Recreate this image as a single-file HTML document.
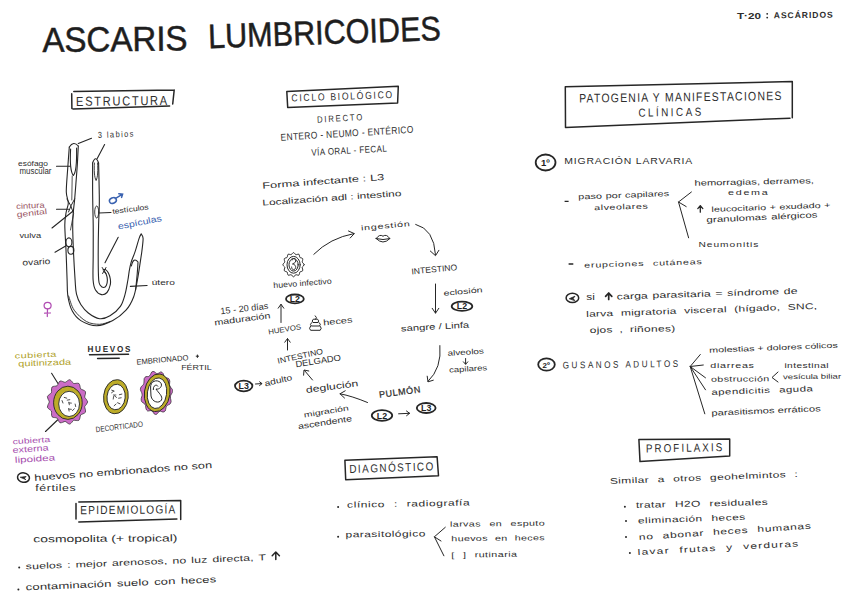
<!DOCTYPE html>
<html><head><meta charset="utf-8"><title>Ascaris lumbricoides</title>
<style>
html,body{margin:0;padding:0;background:#fff;}
body{width:848px;height:599px;overflow:hidden;position:relative;font-family:"Liberation Sans", sans-serif;}
.t{position:absolute;left:0;top:0;line-height:1;white-space:nowrap;transform-origin:0 0;}
svg{position:absolute;left:0;top:0;}

</style></head><body>
<svg width="848" height="599" viewBox="0 0 848 599"><g fill="none" stroke="#262626" stroke-width="1.5" stroke-linecap="round" stroke-linejoin="round"><path d="M73.8 91.5 L174.2 90 M71.7 93.8 L71.9 108.4 M73 109.1 L169.6 106 M174.2 90 L172.7 104"/><path d="M286.8 91.5 L398.3 86.2 L397.6 103 L287.7 107.4 Z"/><path d="M565.3 86.8 L792.3 81.5 L792.3 117.7 M565.3 86.8 L565.5 127.5 L790 118.2"/><path d="M344.9 460.3 L437.1 456.8 L438.5 475.8 L345.7 479.8 Z"/><path d="M638.9 439.5 L729.7 439 L729.7 456 L640 461.6 Z"/><path d="M78.8 502 L180.7 500.4 L180.7 519.4 M76 503.5 L76 519.1 M78.8 521.9 L176.9 519.1"/><path d="M89.5 354.8 L128.5 354.2 M97.6 358.5 L119.2 358.3"/></g><g fill="none" stroke="#262626" stroke-width="1.1" stroke-linecap="round" stroke-linejoin="round"><path d="M69.3 147.0 C69.0 150.8 68.1 162.5 67.6 170.0 C67.1 177.5 66.2 186.5 66.3 192.0 C66.4 197.5 68.3 199.7 68.3 203.0 C68.3 206.3 66.8 208.3 66.2 212.0 C65.6 215.7 64.8 218.7 64.8 225.0 C64.8 231.3 65.6 240.8 66.0 250.0 C66.4 259.2 66.8 272.2 67.1 280.0 C67.4 287.8 67.1 291.8 68.0 297.0 C68.9 302.2 70.2 307.2 72.3 311.1 C74.4 315.0 76.7 318.2 80.8 320.6 C84.9 323.1 91.5 325.8 96.8 325.8 C102.1 325.8 107.9 323.2 112.8 320.6 C117.7 318.0 122.5 314.1 126.0 310.2 C129.5 306.3 131.7 302.0 133.6 297.0 C135.5 292.0 136.4 285.3 137.4 280.0 C138.4 274.7 139.1 269.8 139.8 265.1 C140.5 260.4 141.2 256.1 141.8 251.7 C142.4 247.2 143.2 241.3 143.1 238.4 C143.0 235.5 141.5 234.7 141.2 234.0"/><path d="M69.3 147 Q73.5 140.5 78.3 146"/><path d="M78.3 146.0 C78.1 149.2 77.7 158.5 77.3 165.0 C76.9 171.5 76.2 179.2 75.8 185.0 C75.3 190.8 75.0 195.5 74.6 200.0 C74.2 204.5 73.6 207.8 73.3 212.0 C73.0 216.2 72.7 218.7 72.7 225.0 C72.7 231.3 73.0 240.8 73.4 250.0 C73.8 259.2 74.6 272.6 75.1 280.0 C75.6 287.4 75.5 290.1 76.5 294.2 C77.5 298.3 78.8 301.4 80.8 304.5 C82.8 307.6 85.2 310.6 88.3 313.0 C91.4 315.4 96.0 318.2 99.6 318.7 C103.2 319.2 106.5 317.9 110.0 315.8 C113.5 313.8 117.9 310.0 120.4 306.4 C122.9 302.8 123.8 298.6 125.1 294.2 C126.3 289.8 127.2 283.7 127.9 280.0 C128.6 276.3 128.6 274.7 129.1 271.8 C129.6 268.9 130.1 265.8 131.1 262.4 C132.1 259.0 133.8 255.7 135.1 251.7 C136.4 247.7 138.1 241.3 139.1 238.4 C140.1 235.5 140.8 234.7 141.2 234.0"/><path d="M68.6 296.0 C69.5 298.4 71.2 305.9 74.2 310.2 C77.2 314.4 82.2 319.1 86.4 321.5 C90.6 323.9 95.7 324.3 99.6 324.3 C103.5 324.3 108.3 322.0 110.0 321.5" stroke-width="0.9"/><path d="M70.6 149 C70 160 69.8 171 73.3 175.5 C76.8 172 76.8 160 76.6 148"/><path d="M72.2 176 L71.8 200 M73.5 214 L70.5 230" stroke-width="0.8"/><path d="M74.6 199 Q71 205 68.5 212 M67 199 Q71 205 73.5 213" stroke-width="1"/><ellipse cx="68.9" cy="242.3" rx="3" ry="4.4"/><ellipse cx="70.9" cy="250.3" rx="3" ry="3.9"/><path d="M131.4 266 Q133.5 256.5 138 262 M138 262 Q137.6 272 135.6 290" /><path d="M92.6 163.0 C92.6 166.7 92.6 178.0 92.6 185.0 C92.6 192.0 92.7 198.3 92.8 205.0 C92.9 211.7 93.1 216.7 93.2 225.0 C93.3 233.3 93.2 245.8 93.2 255.0 C93.2 264.2 92.7 274.2 93.1 280.0 C93.5 285.8 94.1 287.6 95.5 290.0 C96.9 292.4 99.6 294.2 101.5 294.6 C103.4 295.0 105.5 294.1 107.0 292.5 C108.5 290.9 109.7 287.2 110.2 285.0 C110.8 282.8 110.6 281.0 110.3 279.0 C110.0 277.0 109.2 274.7 108.4 273.1 C107.6 271.5 106.4 270.2 105.5 269.6 C104.6 269.1 103.4 269.8 103.0 269.8"/><path d="M92.6 163 Q95.6 154.5 98.6 163"/><path d="M98.6 163.0 C98.7 167.5 99.1 183.0 99.2 190.0 C99.3 197.0 99.4 199.2 99.3 205.0 C99.2 210.8 98.8 216.7 98.6 225.0 C98.4 233.3 98.2 245.8 98.2 255.0 C98.2 264.2 98.3 274.9 98.7 280.0 C99.1 285.1 99.7 284.2 100.5 285.5 C101.3 286.8 102.6 287.5 103.6 287.5 C104.6 287.5 105.7 286.8 106.3 285.5 C106.9 284.2 107.4 281.8 107.4 280.0 C107.4 278.2 106.9 275.9 106.3 274.5 C105.7 273.1 104.4 272.0 104.0 271.5"/><path d="M94.4 163 C94 170 94.2 177 96.1 180.5 C97.9 177 98 170 97.6 163" stroke-width="0.9"/><ellipse cx="96.7" cy="212" rx="2" ry="6" stroke-width="0.9"/><path d="M102.2 267.5 L106 273.5 M106 267.5 L102.6 273.5" stroke-width="1"/><path d="M78.3 143.5 L91.5 138.2 M97.1 158.8 L104.6 144.5 M56.5 166.3 L70 166.3 M56.5 209.2 L68.5 209.2 M52 228 L72.5 211.5 M55 252.2 L66.5 245.5 M98.8 213 L111 212.5 M118.2 237.3 L105 262.7 M130.4 286.4 L147.1 285.5 M51.6 373.3 L58 383.5 M45.5 431.5 L57.5 420"/></g><g fill="none" stroke="#3a62b0" stroke-width="1.5" stroke-linecap="round"><ellipse cx="112.9" cy="200.5" rx="3.6" ry="2.7" transform="rotate(-25 112.9 200.5)"/><path d="M115.2 198.6 L122.6 194.2 M118.8 193.8 L122.6 194.2 L121.6 197.4"/></g><g fill="none" stroke="#b14db3" stroke-width="1.25" stroke-linecap="round"><ellipse cx="47.6" cy="305.6" rx="3.5" ry="3.3"/><path d="M47.5 309 L47.3 316.5 M44.6 313.2 L50.4 313"/></g><path d="M87.7 401.9 C87.5 402.3 86.9 403.6 86.4 404.4 C85.9 405.2 84.9 405.8 84.7 406.6 C84.5 407.4 85.1 408.4 85.3 409.3 C85.4 410.3 85.8 411.5 85.4 412.3 C85.0 413.0 83.9 413.4 83.1 413.8 C82.3 414.3 81.2 414.3 80.7 414.9 C80.2 415.6 80.3 416.7 80.0 417.6 C79.7 418.5 79.6 419.8 78.9 420.3 C78.3 420.8 77.1 420.5 76.2 420.5 C75.3 420.5 74.4 420.0 73.7 420.3 C72.9 420.6 72.5 421.6 71.9 422.3 C71.2 422.9 70.5 424.0 69.8 424.1 C69.0 424.2 68.1 423.4 67.3 422.9 C66.5 422.4 65.9 421.5 65.1 421.4 C64.4 421.3 63.6 422.1 62.7 422.3 C61.9 422.5 60.8 423.1 60.0 422.8 C59.3 422.5 58.9 421.3 58.4 420.5 C57.9 419.7 57.7 418.5 57.1 418.1 C56.5 417.6 55.4 417.8 54.6 417.6 C53.7 417.4 52.5 417.4 52.0 416.7 C51.5 416.1 51.6 414.8 51.5 413.8 C51.4 412.9 51.8 411.8 51.4 411.0 C51.0 410.3 50.0 410.0 49.3 409.3 C48.7 408.7 47.6 408.1 47.4 407.3 C47.3 406.4 47.9 405.3 48.2 404.4 C48.6 403.5 49.3 402.7 49.3 401.9 C49.3 401.1 48.6 400.3 48.2 399.4 C47.9 398.5 47.3 397.4 47.4 396.5 C47.6 395.7 48.7 395.1 49.3 394.5 C50.0 393.8 51.0 393.5 51.4 392.8 C51.8 392.0 51.4 390.9 51.5 390.0 C51.6 389.0 51.5 387.7 52.0 387.1 C52.5 386.4 53.7 386.4 54.6 386.2 C55.4 386.0 56.5 386.2 57.1 385.7 C57.7 385.3 57.9 384.1 58.4 383.3 C58.9 382.5 59.3 381.3 60.0 381.0 C60.8 380.7 61.9 381.3 62.7 381.5 C63.6 381.7 64.4 382.5 65.1 382.4 C65.9 382.3 66.5 381.4 67.3 380.9 C68.1 380.4 69.0 379.6 69.8 379.7 C70.5 379.8 71.2 380.9 71.9 381.5 C72.5 382.2 72.9 383.2 73.7 383.5 C74.4 383.8 75.3 383.3 76.2 383.3 C77.1 383.3 78.3 383.0 78.9 383.5 C79.6 384.0 79.7 385.3 80.0 386.2 C80.3 387.1 80.2 388.2 80.7 388.9 C81.2 389.5 82.3 389.5 83.1 390.0 C83.9 390.4 85.0 390.8 85.4 391.5 C85.8 392.3 85.4 393.5 85.3 394.5 C85.1 395.4 84.5 396.4 84.7 397.2 C84.9 398.0 85.9 398.6 86.4 399.4 C86.9 400.2 87.5 401.5 87.7 401.9" fill="#cb6cc6" stroke="#262626" stroke-width="0.7"/><ellipse cx="67.9" cy="402.8" rx="14.3" ry="16.6" fill="#bdac28" stroke="#262626" stroke-width="0.9"/><ellipse cx="69.1" cy="403.9" rx="10.4" ry="12.6" fill="#fff" stroke="#262626" stroke-width="0.9"/><g stroke="#333" stroke-width="0.8" stroke-linecap="round"><path d="M72.1 409.7 L74.7 409.7" transform="rotate(137 73.4 409.7)"/><path d="M67.6 409.8 L70.2 409.8" transform="rotate(81 68.9 409.8)"/><path d="M64.2 397.8 L66.8 397.8" transform="rotate(17 65.5 397.8)"/><path d="M74.1 405.3 L76.7 405.3" transform="rotate(78 75.4 405.3)"/><path d="M67.8 403.5 L70.4 403.5" transform="rotate(80 69.1 403.5)"/><path d="M67.2 399.9 L69.8 399.9" transform="rotate(170 68.5 399.9)"/><path d="M68.8 403.0 L71.4 403.0" transform="rotate(5 70.1 403.0)"/><path d="M61.2 401.8 L63.8 401.8" transform="rotate(69 62.5 401.8)"/><path d="M68.8 409.2 L71.4 409.2" transform="rotate(5 70.1 409.2)"/></g><ellipse cx="115.9" cy="396.7" rx="12.3" ry="17.1" fill="#bdac28" stroke="#262626" stroke-width="0.9" transform="rotate(6 115.9 396.7)"/><ellipse cx="116.1" cy="397" rx="9.1" ry="12.8" fill="#fff" stroke="#262626" stroke-width="0.9" transform="rotate(6 116.1 397)"/><g stroke="#333" stroke-width="0.8" stroke-linecap="round"><path d="M111.3 392.0 L113.9 392.0" transform="rotate(143 112.6 392.0)"/><path d="M119.3 394.4 L121.9 394.4" transform="rotate(166 120.6 394.4)"/><path d="M118.6 398.0 L121.2 398.0" transform="rotate(170 119.9 398.0)"/><path d="M111.6 390.6 L114.2 390.6" transform="rotate(20 112.9 390.6)"/><path d="M112.1 397.8 L114.7 397.8" transform="rotate(98 113.4 397.8)"/><path d="M114.2 396.6 L116.8 396.6" transform="rotate(39 115.5 396.6)"/><path d="M113.8 404.9 L116.4 404.9" transform="rotate(138 115.1 404.9)"/><path d="M117.5 403.3 L120.1 403.3" transform="rotate(25 118.8 403.3)"/><path d="M113.3 395.0 L115.9 395.0" transform="rotate(0 114.6 395.0)"/></g><path d="M172.3 392.7 C172.0 393.2 170.9 394.5 170.7 395.4 C170.4 396.4 170.4 397.2 170.5 398.3 C170.6 399.3 171.3 400.7 171.1 401.7 C171.0 402.7 170.4 403.6 169.8 404.2 C169.1 404.8 167.9 404.8 167.3 405.3 C166.7 405.9 166.4 406.7 166.0 407.6 C165.7 408.5 165.7 410.2 165.2 411.0 C164.7 411.7 163.8 412.0 163.0 412.1 C162.2 412.1 161.2 411.2 160.5 411.2 C159.7 411.2 159.2 411.7 158.5 412.2 C157.8 412.8 157.1 414.2 156.4 414.4 C155.7 414.7 154.8 414.3 154.1 413.8 C153.5 413.2 153.0 411.7 152.3 411.2 C151.7 410.7 151.1 410.7 150.3 410.6 C149.5 410.6 148.4 411.3 147.6 411.0 C146.9 410.7 146.4 409.7 146.0 408.8 C145.6 407.8 145.8 406.2 145.5 405.3 C145.2 404.4 144.7 404.0 144.0 403.4 C143.4 402.8 142.1 402.5 141.7 401.7 C141.2 400.9 141.1 399.7 141.2 398.7 C141.2 397.6 142.1 396.4 142.1 395.4 C142.2 394.4 142.0 393.7 141.7 392.7 C141.4 391.7 140.4 390.6 140.4 389.6 C140.3 388.6 140.7 387.5 141.2 386.7 C141.7 385.9 142.8 385.5 143.3 384.7 C143.8 383.9 143.9 383.1 144.0 382.0 C144.2 381.0 143.8 379.4 144.2 378.5 C144.5 377.6 145.3 377.0 146.0 376.6 C146.7 376.3 147.9 376.8 148.6 376.5 C149.3 376.2 149.7 375.5 150.3 374.8 C150.8 374.0 151.2 372.4 151.8 371.9 C152.5 371.4 153.4 371.4 154.1 371.6 C154.9 371.9 155.7 373.2 156.4 373.4 C157.1 373.7 157.7 373.4 158.5 373.2 C159.3 372.9 160.2 371.8 161.0 371.9 C161.7 371.9 162.5 372.6 163.0 373.3 C163.5 374.1 163.7 375.7 164.2 376.5 C164.7 377.2 165.3 377.5 166.0 377.8 C166.8 378.1 168.0 377.9 168.6 378.5 C169.3 379.1 169.6 380.2 169.8 381.2 C169.9 382.2 169.4 383.7 169.5 384.7 C169.6 385.7 170.0 386.3 170.5 387.1 C171.0 388.0 172.1 388.7 172.4 389.6 C172.7 390.5 172.3 392.2 172.3 392.7" fill="#cb6cc6" stroke="#262626" stroke-width="0.7"/><ellipse cx="157.2" cy="392.8" rx="12.8" ry="19" fill="#bdac28" stroke="#262626" stroke-width="0.9" transform="rotate(8 157.2 392.8)"/><ellipse cx="157" cy="393.2" rx="9.6" ry="15.4" fill="#fff" stroke="#262626" stroke-width="0.9" transform="rotate(8 157 393.2)"/><path d="M150.6 388 C150 381 157 379 160.5 382.5 C163.5 386 159 390 156 389 C158.5 393 163 396 161.5 400 C159 404 152 402 151 396 Z M153.3 390 C153 385 156.8 384 158 386.5" fill="none" stroke="#262626" stroke-width="1"/><g fill="none" stroke="#262626" stroke-width="1" stroke-linecap="round" stroke-linejoin="round"><path d="M304.1 264.7 C303.9 264.9 303.5 265.7 303.2 266.2 C302.9 266.6 302.3 266.9 302.2 267.4 C302.1 267.8 302.5 268.4 302.6 269.0 C302.6 269.5 302.9 270.3 302.7 270.7 C302.5 271.2 301.7 271.3 301.3 271.5 C300.8 271.7 300.2 271.6 299.9 272.0 C299.6 272.3 299.6 273.1 299.5 273.6 C299.3 274.1 299.2 274.9 298.8 275.2 C298.4 275.4 297.7 275.1 297.3 275.0 C296.8 275.0 296.2 274.5 295.8 274.7 C295.4 274.8 295.2 275.4 294.8 275.8 C294.4 276.2 293.9 276.8 293.5 276.8 C293.1 276.8 292.6 276.2 292.2 275.8 C291.8 275.4 291.6 274.8 291.2 274.7 C290.8 274.5 290.2 275.0 289.7 275.0 C289.3 275.1 288.6 275.4 288.2 275.2 C287.8 274.9 287.7 274.1 287.5 273.6 C287.4 273.1 287.4 272.3 287.1 272.0 C286.8 271.6 286.2 271.7 285.7 271.5 C285.3 271.3 284.5 271.2 284.3 270.7 C284.1 270.3 284.4 269.5 284.4 269.0 C284.5 268.4 284.9 267.8 284.8 267.4 C284.7 266.9 284.1 266.6 283.8 266.2 C283.5 265.7 282.9 265.2 282.9 264.7 C282.9 264.2 283.5 263.7 283.8 263.2 C284.1 262.8 284.7 262.5 284.8 262.0 C284.9 261.6 284.5 261.0 284.4 260.4 C284.4 259.9 284.1 259.1 284.3 258.7 C284.5 258.2 285.3 258.1 285.7 257.9 C286.2 257.7 286.8 257.8 287.1 257.4 C287.4 257.1 287.4 256.3 287.5 255.8 C287.7 255.3 287.8 254.5 288.2 254.2 C288.6 254.0 289.3 254.3 289.7 254.4 C290.2 254.4 290.8 254.9 291.2 254.7 C291.6 254.6 291.8 254.0 292.2 253.6 C292.6 253.2 293.1 252.6 293.5 252.6 C293.9 252.6 294.4 253.2 294.8 253.6 C295.2 254.0 295.4 254.6 295.8 254.7 C296.2 254.9 296.8 254.4 297.3 254.4 C297.7 254.3 298.4 254.0 298.8 254.2 C299.2 254.5 299.3 255.3 299.5 255.8 C299.6 256.3 299.6 257.1 299.9 257.4 C300.2 257.8 300.8 257.7 301.3 257.9 C301.7 258.1 302.5 258.2 302.7 258.7 C302.9 259.1 302.6 259.9 302.6 260.4 C302.5 261.0 302.1 261.6 302.2 262.0 C302.3 262.5 302.9 262.8 303.2 263.2 C303.5 263.7 303.9 264.5 304.1 264.7"/><ellipse cx="293.6" cy="264.8" rx="6.6" ry="8.4"/><ellipse cx="293.6" cy="264.8" rx="4.6" ry="6.3"/><path d="M292 260 C292 258 296 258 295.8 261 C295.6 263 293 263.5 292.5 264 C295.5 264.5 296.5 267 295 269 C293.5 270.5 291.5 269.5 291.6 267"/><path d="M376.2 238.6 Q379.5 233.6 383 236.2 Q386.5 233.6 389.8 238.6 Q383 245.5 376.2 238.6 Z M376.2 238.6 Q383 240.6 389.8 238.6"/><path d="M315.3 315.8 Q317.5 317.5 315.8 319.3 M313 319.5 Q311.2 321.2 313 322.5 L318 322.5 Q319.6 321 317.8 319.4 Z M311.6 322.6 Q309.3 324.8 311.3 326 L319.5 326 Q321.5 324.5 319.2 322.6 M310.5 326.2 Q308.4 328.6 310.6 330.3 L320.2 330.3 Q322.4 328.3 320.2 326.2"/><ellipse cx="294.9" cy="298.9" rx="8.9" ry="4.4" stroke-width="1.8"/><ellipse cx="462" cy="306.2" rx="10.3" ry="4.6" stroke-width="1.8"/><ellipse cx="382" cy="415.5" rx="10.2" ry="5.3" stroke-width="1.8"/><ellipse cx="426.2" cy="408" rx="9.4" ry="5" stroke-width="1.8"/><ellipse cx="243.7" cy="386" rx="8.7" ry="5.3" stroke-width="1.8"/><ellipse cx="545.6" cy="162.5" rx="9.9" ry="8" stroke-width="1.8"/><ellipse cx="546.5" cy="364.5" rx="8.3" ry="6.2" stroke-width="1.8"/><ellipse cx="572.4" cy="297.9" rx="6.3" ry="4.7" stroke-width="1.5"/><ellipse cx="23.5" cy="477.6" rx="6" ry="4.7" stroke-width="1.5" transform="rotate(8 23.5 477.6)"/><path d="M569.6 298.6 L575 296.2 L573.2 298.4 L574.6 300.4 Z M20.6 477.2 L26.2 476.6 L24 478 L25.6 479.4 Z" fill="#262626" stroke-width="0.8"/><path d="M608.7 299.4 L608.7 293.6 M605.6 296.4 L608.7 293 L611.8 296.4" stroke-width="1.7"/><path d="M700.3 212.2 L700.3 206 M697.8 208.6 L700.3 205.6 L702.8 208.6" stroke-width="1.3"/><path d="M275.8 559.6 L275.8 552.4 M272.2 555.8 L275.8 552 L279.4 555.8" stroke-width="1.5"/><path d="M313.8 254.3 Q330 238 354 233.6 M348.5 231 L354.3 233.6 L350.2 238"/><path d="M415.7 224.4 Q434 229 435.5 254.7 M430.3 251 L435.5 255.7 L438.9 250.3"/><path d="M435.5 284 L435.5 313 M432.2 308.3 L435.5 313.2 L438.8 308.3"/><path d="M439.9 345.6 Q442 368 428 381.4 M427.2 376.2 L428 381.8 L433.3 380.2"/><path d="M367.5 402.5 Q352 396 340 393.8 M345.2 390.8 L340 393.8 L344.5 398"/><path d="M312.5 380 L304.5 370.5 M303.6 375.2 L304 370 L308.8 371"/><path d="M287.5 350 L287.5 338.8 M284.8 342.2 L287.5 338.5 L290.2 342.2"/><path d="M281 322.5 L281 304.5 M278.2 308.2 L281 304.2 L283.8 308.2"/><path d="M398.6 413.8 L409.6 413.3 M406.5 411 L409.6 413.3 L406.6 415.7"/><path d="M255.5 384 L261.8 383.6 M259.6 381.8 L262 383.6 L259.6 385.5"/><path d="M465.6 358.5 L465.6 364 M463.4 361.8 L465.6 364.3 L467.8 361.8 M196.2 356.2 L198.6 356.2 M197.4 355 L197.4 357.5"/><path d="M691.4 192 L678.5 202 L686.2 206.6 M678.5 202 L688.6 237.8"/><path d="M700.3 354.5 L690.2 366.5 L703.3 365 M690.2 366.5 L705.5 377.8 M690.2 366.5 L705.5 389.8 M690.2 366.5 L704.8 413.8"/><path d="M778 372 L772 377.5 L778 382"/><path d="M445.3 527.3 L434.4 536.8 L441 541 M434.4 536.8 L443.9 555.8"/></g><g fill="#262626"><circle cx="767.2" cy="13.8" r="0.9"/><circle cx="767.2" cy="17.6" r="0.9"/><circle cx="19.2" cy="567.4" r="1"/><circle cx="18.4" cy="589.6" r="1"/><circle cx="338.1" cy="507" r="1"/><circle cx="338.1" cy="536.8" r="1"/><circle cx="624.9" cy="506.8" r="1"/><circle cx="626" cy="521" r="1"/><circle cx="626" cy="537" r="1"/><circle cx="629.9" cy="553" r="1"/></g><path d="M564.6 201.3 L568.6 201.3 M568.6 264 L573.3 264" stroke="#262626" stroke-width="1.3"/><g font-family="Liberation Sans" font-size="8.8" font-weight="bold" fill="#222" text-anchor="middle"><text x="294.9" y="302">L2</text><text x="462" y="309.4">L2</text><text x="382" y="418.6">L2</text><text x="426.2" y="411.1">L3</text><text x="243.7" y="389.1">L3</text><text x="545.3" y="166" font-size="9.5">1º</text><text x="546.3" y="367.6" font-size="8">2º</text></g></svg>
<div class="t" style="font-size:34.78px;color:#1e1e1e;-webkit-text-stroke:0.50px #1e1e1e;transform:translate(42.40px,52.60px) rotate(-0.68deg) scale(0.952,1) translate(0.00px,-29.57px)">ASCARIS</div>
<div class="t" style="font-size:34.06px;color:#1e1e1e;-webkit-text-stroke:0.50px #1e1e1e;transform:translate(211.00px,48.00px) rotate(-2.00deg) scale(0.898,1) translate(-2.72px,-28.95px)">LUMBRICOIDES</div>
<div class="t" style="font-size:8.29px;color:#2e2e2e;font-weight:700;transform:translate(737.00px,18.60px) rotate(0.00deg) scale(1.411,1) translate(-0.08px,-7.04px)">T·20</div>
<div class="t" style="font-size:8.57px;color:#2e2e2e;font-weight:700;letter-spacing:0.94px;transform:translate(774.00px,18.60px) rotate(-0.59deg) scale(1.000,1) translate(-0.17px,-7.29px)">ASCÁRIDOS</div>
<div class="t" style="font-size:13.04px;color:#2e2e2e;letter-spacing:2.03px;transform:translate(76.90px,106.00px) rotate(-0.63deg) scale(0.850,1) translate(-1.04px,-11.09px)">ESTRUCTURA</div>
<div class="t" style="font-size:8.70px;color:#2e2e2e;letter-spacing:1.71px;transform:translate(98.20px,138.50px) rotate(-2.44deg) scale(0.850,1) translate(-0.26px,-7.39px)">3 labios</div>
<div class="t" style="font-size:7.96px;color:#2e2e2e;transform:translate(18.40px,166.40px) rotate(0.00deg) scale(1.053,1) translate(-0.32px,-6.77px)">esófago</div>
<div class="t" style="font-size:8.33px;color:#2e2e2e;transform:translate(20.00px,174.40px) rotate(0.00deg) scale(0.946,1) translate(-0.50px,-7.08px)">muscular</div>
<div class="t" style="font-size:7.96px;color:#9a5866;transform:translate(16.60px,209.70px) rotate(-2.43deg) scale(1.200,1) translate(-0.32px,-6.77px)">cintura</div>
<div class="t" style="font-size:7.96px;color:#9a5866;transform:translate(17.50px,218.00px) rotate(-6.23deg) scale(1.301,1) translate(-0.32px,-6.77px)">genital</div>
<div class="t" style="font-size:7.41px;color:#2e2e2e;transform:translate(112.80px,214.40px) rotate(-7.46deg) scale(1.168,1) translate(-0.07px,-6.30px)">testículos</div>
<div class="t" style="font-size:8.70px;color:#3a62b0;transform:translate(119.00px,229.90px) rotate(-11.21deg) scale(1.209,1) translate(-0.35px,-7.40px)">espículas</div>
<div class="t" style="font-size:7.41px;color:#2e2e2e;transform:translate(19.40px,238.00px) rotate(0.00deg) scale(1.253,1) translate(0.00px,-6.30px)">vulva</div>
<div class="t" style="font-size:8.33px;color:#2e2e2e;transform:translate(23.00px,265.60px) rotate(-3.38deg) scale(1.230,1) translate(-0.33px,-7.08px)">ovario</div>
<div class="t" style="font-size:7.41px;color:#2e2e2e;transform:translate(152.30px,285.70px) rotate(0.00deg) scale(1.367,1) translate(-0.44px,-6.30px)">útero</div>
<div class="t" style="font-size:8.57px;color:#2e2e2e;font-weight:700;letter-spacing:1.81px;transform:translate(88.00px,352.40px) rotate(-0.27deg) scale(0.950,1) translate(-0.51px,-7.29px)">HUEVOS</div>
<div class="t" style="font-size:7.59px;color:#b0a22a;letter-spacing:0.25px;transform:translate(15.30px,358.90px) rotate(-2.50deg) scale(1.450,1) translate(-0.30px,-6.45px)">cubierta</div>
<div class="t" style="font-size:8.33px;color:#b0a22a;transform:translate(18.80px,366.50px) rotate(-1.85deg) scale(1.328,1) translate(-0.33px,-7.08px)">quitinizada</div>
<div class="t" style="font-size:7.68px;color:#2e2e2e;transform:translate(137.30px,365.20px) rotate(-5.04deg) scale(0.994,1) translate(-0.61px,-6.53px)">EMBRIONADO</div>
<div class="t" style="font-size:7.97px;color:#2e2e2e;transform:translate(181.90px,370.30px) rotate(0.00deg) scale(1.115,1) translate(-0.64px,-6.78px)">FÉRTIL</div>
<div class="t" style="font-size:7.83px;color:#2e2e2e;transform:translate(96.70px,432.80px) rotate(-6.67deg) scale(0.821,1) translate(-0.63px,-6.65px)">DECORTICADO</div>
<div class="t" style="font-size:7.41px;color:#a64eae;transform:translate(13.30px,444.40px) rotate(-3.39deg) scale(1.425,1) translate(-0.30px,-6.30px)">cubierta</div>
<div class="t" style="font-size:8.33px;color:#a64eae;transform:translate(13.30px,453.00px) rotate(-4.03deg) scale(1.294,1) translate(-0.33px,-7.08px)">externa</div>
<div class="t" style="font-size:8.33px;color:#a64eae;transform:translate(15.80px,462.90px) rotate(-3.61deg) scale(1.404,1) translate(-0.50px,-7.08px)">lipoidea</div>
<div class="t" style="font-size:9.26px;color:#2e2e2e;transform:translate(35.40px,481.70px) rotate(-4.15deg) scale(1.380,1) translate(-0.56px,-7.87px)">huevos no embrionados no son</div>
<div class="t" style="font-size:8.52px;color:#2e2e2e;letter-spacing:0.40px;transform:translate(35.40px,491.40px) rotate(0.00deg) scale(1.450,1) translate(-0.09px,-7.24px)">fértiles</div>
<div class="t" style="font-size:11.88px;color:#2e2e2e;letter-spacing:1.45px;transform:translate(81.10px,515.30px) rotate(-0.49deg) scale(0.850,1) translate(-0.95px,-10.10px)">EPIDEMIOLOGÍA</div>
<div class="t" style="font-size:9.63px;color:#2e2e2e;transform:translate(33.80px,542.50px) rotate(-0.40deg) scale(1.446,1) translate(-0.39px,-8.19px)">cosmopolita (+ tropical)</div>
<div class="t" style="font-size:8.52px;color:#2e2e2e;letter-spacing:0.09px;word-spacing:0.94px;transform:translate(26.10px,569.60px) rotate(-2.20deg) scale(1.450,1) translate(-0.17px,-7.24px)">suelos : mejor arenosos, no luz directa, T</div>
<div class="t" style="font-size:9.07px;color:#2e2e2e;letter-spacing:0.06px;word-spacing:1.11px;transform:translate(26.40px,591.00px) rotate(-2.41deg) scale(1.450,1) translate(-0.36px,-7.71px)">contaminación suelo con heces</div>
<div class="t" style="font-size:10.14px;color:#2e2e2e;letter-spacing:2.00px;transform:translate(292.00px,102.10px) rotate(-2.00deg) scale(0.850,1) translate(-0.51px,-8.62px)">CICLO BIOLÓGICO</div>
<div class="t" style="font-size:8.99px;color:#2e2e2e;letter-spacing:2.16px;transform:translate(317.80px,123.30px) rotate(-3.37deg) scale(0.850,1) translate(-0.72px,-7.64px)">DIRECTO</div>
<div class="t" style="font-size:9.86px;color:#2e2e2e;letter-spacing:0.43px;transform:translate(281.50px,141.00px) rotate(-3.43deg) scale(0.850,1) translate(-0.79px,-8.38px)">ENTERO - NEUMO - ENTÉRICO</div>
<div class="t" style="font-size:9.42px;color:#2e2e2e;letter-spacing:0.51px;transform:translate(311.60px,155.70px) rotate(-3.09deg) scale(0.850,1) translate(0.00px,-8.01px)">VÍA ORAL - FECAL</div>
<div class="t" style="font-size:8.89px;color:#2e2e2e;letter-spacing:0.01px;word-spacing:0.11px;transform:translate(263.50px,189.20px) rotate(-4.12deg) scale(1.450,1) translate(-0.71px,-7.56px)">Forma infectante : L3</div>
<div class="t" style="font-size:8.33px;color:#2e2e2e;transform:translate(263.50px,205.60px) rotate(-3.95deg) scale(1.433,1) translate(-0.67px,-7.08px)">Localización adl : intestino</div>
<div class="t" style="font-size:7.41px;color:#2e2e2e;letter-spacing:0.51px;transform:translate(361.90px,230.80px) rotate(-5.17deg) scale(1.450,1) translate(-0.44px,-6.30px)">ingestión</div>
<div class="t" style="font-size:7.96px;color:#2e2e2e;transform:translate(274.20px,288.80px) rotate(-4.28deg) scale(1.099,1) translate(-0.48px,-6.77px)">huevo infectivo</div>
<div class="t" style="font-size:8.41px;color:#2e2e2e;transform:translate(412.50px,274.50px) rotate(-5.52deg) scale(1.024,1) translate(-0.76px,-7.14px)">INTESTINO</div>
<div class="t" style="font-size:7.41px;color:#2e2e2e;transform:translate(444.20px,295.90px) rotate(-4.81deg) scale(1.441,1) translate(-0.30px,-6.30px)">eclosión</div>
<div class="t" style="font-size:8.33px;color:#2e2e2e;transform:translate(401.30px,331.50px) rotate(-3.27deg) scale(1.356,1) translate(-0.17px,-7.08px)">sangre / Linfa</div>
<div class="t" style="font-size:7.41px;color:#2e2e2e;transform:translate(448.10px,356.10px) rotate(-3.69deg) scale(1.342,1) translate(-0.30px,-6.30px)">alveolos</div>
<div class="t" style="font-size:7.41px;color:#2e2e2e;transform:translate(449.70px,372.80px) rotate(-3.68deg) scale(1.283,1) translate(-0.30px,-6.30px)">capilares</div>
<div class="t" style="font-size:8.99px;color:#2e2e2e;letter-spacing:0.62px;-webkit-text-stroke:0.25px #2e2e2e;transform:translate(380.20px,398.30px) rotate(-7.59deg) scale(1.000,1) translate(-0.72px,-7.64px)">PULMÓN</div>
<div class="t" style="font-size:8.89px;color:#2e2e2e;transform:translate(306.80px,393.40px) rotate(-7.33deg) scale(1.390,1) translate(-0.36px,-7.56px)">deglución</div>
<div class="t" style="font-size:7.41px;color:#2e2e2e;transform:translate(305.00px,417.80px) rotate(-9.29deg) scale(1.407,1) translate(-0.44px,-6.30px)">migración</div>
<div class="t" style="font-size:8.33px;color:#2e2e2e;transform:translate(298.80px,429.30px) rotate(-8.57deg) scale(1.265,1) translate(-0.33px,-7.08px)">ascendente</div>
<div class="t" style="font-size:8.33px;color:#2e2e2e;transform:translate(265.70px,386.40px) rotate(-13.12deg) scale(1.238,1) translate(-0.33px,-7.08px)">adulto</div>
<div class="t" style="font-size:7.97px;color:#2e2e2e;transform:translate(279.00px,364.30px) rotate(-12.38deg) scale(1.093,1) translate(-0.72px,-6.78px)">INTESTINO</div>
<div class="t" style="font-size:8.70px;color:#2e2e2e;transform:translate(296.70px,367.50px) rotate(-8.62deg) scale(1.080,1) translate(-0.70px,-7.39px)">DELGADO</div>
<div class="t" style="font-size:7.25px;color:#2e2e2e;transform:translate(269.30px,334.60px) rotate(-9.46deg) scale(1.083,1) translate(-0.58px,-6.16px)">HUEVOS</div>
<div class="t" style="font-size:8.33px;color:#2e2e2e;transform:translate(324.10px,325.40px) rotate(-5.45deg) scale(1.323,1) translate(-0.50px,-7.08px)">heces</div>
<div class="t" style="font-size:8.99px;color:#2e2e2e;transform:translate(221.50px,314.80px) rotate(-6.45deg) scale(1.014,1) translate(-0.63px,-7.64px)">15 - 20 días</div>
<div class="t" style="font-size:8.33px;color:#2e2e2e;transform:translate(215.30px,325.40px) rotate(-7.38deg) scale(1.298,1) translate(-0.50px,-7.08px)">maduración</div>
<div class="t" style="font-size:11.59px;color:#2e2e2e;letter-spacing:1.77px;transform:translate(350.30px,473.90px) rotate(-1.87deg) scale(0.850,1) translate(-0.93px,-9.86px)">DIAGNÓSTICO</div>
<div class="t" style="font-size:8.33px;color:#2e2e2e;letter-spacing:0.36px;word-spacing:3.50px;transform:translate(347.60px,507.80px) rotate(-1.08deg) scale(1.450,1) translate(-0.33px,-7.08px)">clínico : radiografía</div>
<div class="t" style="font-size:8.33px;color:#2e2e2e;letter-spacing:0.28px;transform:translate(346.30px,537.50px) rotate(-0.73deg) scale(1.450,1) translate(-0.50px,-7.08px)">parasitológico</div>
<div class="t" style="font-size:7.41px;color:#2e2e2e;letter-spacing:0.26px;word-spacing:3.50px;transform:translate(450.70px,527.00px) rotate(-0.61deg) scale(1.450,1) translate(-0.44px,-6.30px)">larvas en esputo</div>
<div class="t" style="font-size:7.41px;color:#2e2e2e;letter-spacing:0.21px;word-spacing:2.70px;transform:translate(452.00px,541.50px) rotate(-0.62deg) scale(1.450,1) translate(-0.44px,-6.30px)">huevos en heces</div>
<div class="t" style="font-size:7.41px;color:#2e2e2e;letter-spacing:0.30px;word-spacing:3.36px;transform:translate(452.00px,558.00px) rotate(-0.88deg) scale(1.450,1) translate(-0.52px,-6.30px)">[ ] rutinaria</div>
<div class="t" style="font-size:12.32px;color:#2e2e2e;letter-spacing:1.44px;transform:translate(580.00px,103.00px) rotate(-0.71deg) scale(0.850,1) translate(-0.99px,-10.47px)">PATOGENIA Y MANIFESTACIONES</div>
<div class="t" style="font-size:11.59px;color:#2e2e2e;letter-spacing:2.93px;transform:translate(639.00px,117.50px) rotate(-0.92deg) scale(0.850,1) translate(-0.58px,-9.86px)">CLÍNICAS</div>
<div class="t" style="font-size:8.70px;color:#2e2e2e;letter-spacing:0.70px;transform:translate(565.10px,164.40px) rotate(0.00deg) scale(1.200,1) translate(-0.70px,-7.39px)">MIGRACIÓN LARVARIA</div>
<div class="t" style="font-size:7.59px;color:#2e2e2e;letter-spacing:0.02px;word-spacing:0.24px;transform:translate(579.00px,199.80px) rotate(-2.10deg) scale(1.450,1) translate(-0.46px,-6.45px)">paso por capilares</div>
<div class="t" style="font-size:7.41px;color:#2e2e2e;letter-spacing:0.35px;transform:translate(594.70px,210.50px) rotate(-1.74deg) scale(1.450,1) translate(-0.30px,-6.30px)">alveolares</div>
<div class="t" style="font-size:7.96px;color:#2e2e2e;transform:translate(695.10px,186.50px) rotate(-1.21deg) scale(1.416,1) translate(-0.48px,-6.77px)">hemorragias, derrames,</div>
<div class="t" style="font-size:7.41px;color:#2e2e2e;letter-spacing:1.18px;transform:translate(728.50px,195.10px) rotate(0.00deg) scale(1.450,1) translate(-0.30px,-6.30px)">edema</div>
<div class="t" style="font-size:7.41px;color:#2e2e2e;letter-spacing:0.02px;word-spacing:0.32px;transform:translate(712.20px,212.20px) rotate(-2.09deg) scale(1.450,1) translate(-0.44px,-6.30px)">leucocitario + exudado +</div>
<div class="t" style="font-size:7.96px;color:#2e2e2e;letter-spacing:0.02px;word-spacing:0.66px;transform:translate(707.10px,223.30px) rotate(-2.65deg) scale(1.450,1) translate(-0.32px,-6.77px)">granulomas alérgicos</div>
<div class="t" style="font-size:7.04px;color:#2e2e2e;letter-spacing:0.69px;transform:translate(699.20px,246.80px) rotate(0.00deg) scale(1.450,1) translate(-0.56px,-5.98px)">Neumonitis</div>
<div class="t" style="font-size:7.41px;color:#2e2e2e;letter-spacing:0.51px;word-spacing:3.50px;transform:translate(584.80px,268.00px) rotate(-1.72deg) scale(1.450,1) translate(-0.30px,-6.30px)">erupciones cutáneas</div>
<div class="t" style="font-size:8.52px;color:#2e2e2e;transform:translate(586.60px,299.90px) rotate(0.00deg) scale(1.394,1) translate(-0.17px,-7.24px)">si</div>
<div class="t" style="font-size:8.52px;color:#2e2e2e;letter-spacing:0.05px;word-spacing:0.69px;transform:translate(617.30px,299.60px) rotate(-1.75deg) scale(1.450,1) translate(-0.34px,-7.24px)">carga parasitaria = síndrome de</div>
<div class="t" style="font-size:8.33px;color:#2e2e2e;letter-spacing:0.15px;word-spacing:2.66px;transform:translate(587.00px,317.00px) rotate(-2.00deg) scale(1.450,1) translate(-0.50px,-7.08px)">larva migratoria visceral (hígado, SNC,</div>
<div class="t" style="font-size:8.33px;color:#2e2e2e;letter-spacing:0.17px;word-spacing:2.16px;transform:translate(590.20px,333.00px) rotate(-1.15deg) scale(1.450,1) translate(-0.33px,-7.08px)">ojos , riñones)</div>
<div class="t" style="font-size:9.57px;color:#2e2e2e;letter-spacing:2.98px;transform:translate(563.10px,368.60px) rotate(-0.80deg) scale(0.850,1) translate(-0.48px,-8.13px)">GUSANOS ADULTOS</div>
<div class="t" style="font-size:7.41px;color:#2e2e2e;transform:translate(710.00px,353.00px) rotate(-2.25deg) scale(1.449,1) translate(-0.44px,-6.30px)">molestias + dolores cólicos</div>
<div class="t" style="font-size:7.41px;color:#2e2e2e;letter-spacing:0.47px;transform:translate(710.80px,368.50px) rotate(0.00deg) scale(1.450,1) translate(-0.30px,-6.30px)">diarreas</div>
<div class="t" style="font-size:7.04px;color:#2e2e2e;letter-spacing:0.30px;transform:translate(785.00px,368.00px) rotate(0.00deg) scale(1.450,1) translate(-0.42px,-5.98px)">intestinal</div>
<div class="t" style="font-size:7.41px;color:#2e2e2e;letter-spacing:0.22px;transform:translate(711.50px,382.00px) rotate(-0.40deg) scale(1.450,1) translate(-0.30px,-6.30px)">obstrucción</div>
<div class="t" style="font-size:7.04px;color:#2e2e2e;transform:translate(783.00px,379.20px) rotate(-0.59deg) scale(1.364,1) translate(0.00px,-5.98px)">vesícula biliar</div>
<div class="t" style="font-size:7.96px;color:#2e2e2e;letter-spacing:0.29px;word-spacing:3.50px;transform:translate(711.90px,395.80px) rotate(-2.15deg) scale(1.450,1) translate(-0.32px,-6.77px)">apendicitis aguda</div>
<div class="t" style="font-size:7.96px;color:#2e2e2e;transform:translate(712.30px,416.40px) rotate(-2.33deg) scale(1.413,1) translate(-0.48px,-6.77px)">parasitismos erráticos</div>
<div class="t" style="font-size:11.59px;color:#2e2e2e;letter-spacing:2.41px;transform:translate(646.70px,453.30px) rotate(-0.99deg) scale(0.850,1) translate(-0.93px,-9.86px)">PROFILAXIS</div>
<div class="t" style="font-size:8.33px;color:#2e2e2e;letter-spacing:0.24px;word-spacing:3.26px;transform:translate(610.40px,484.00px) rotate(-2.15deg) scale(1.450,1) translate(-0.33px,-7.08px)">Similar a otros geohelmintos :</div>
<div class="t" style="font-size:8.33px;color:#2e2e2e;letter-spacing:0.24px;word-spacing:3.50px;transform:translate(636.00px,508.00px) rotate(-1.31deg) scale(1.450,1) translate(-0.08px,-7.08px)">tratar H2O residuales</div>
<div class="t" style="font-size:8.33px;color:#2e2e2e;letter-spacing:0.27px;word-spacing:3.50px;transform:translate(638.50px,523.50px) rotate(-1.88deg) scale(1.450,1) translate(-0.33px,-7.08px)">eliminación heces</div>
<div class="t" style="font-size:8.33px;color:#2e2e2e;letter-spacing:0.44px;word-spacing:3.50px;transform:translate(639.80px,540.00px) rotate(-3.79deg) scale(1.450,1) translate(-0.50px,-7.08px)">no abonar heces humanas</div>
<div class="t" style="font-size:8.33px;color:#2e2e2e;letter-spacing:0.82px;word-spacing:3.50px;transform:translate(638.50px,555.00px) rotate(-3.05deg) scale(1.450,1) translate(-0.50px,-7.08px)">lavar frutas y verduras</div>
</body></html>
